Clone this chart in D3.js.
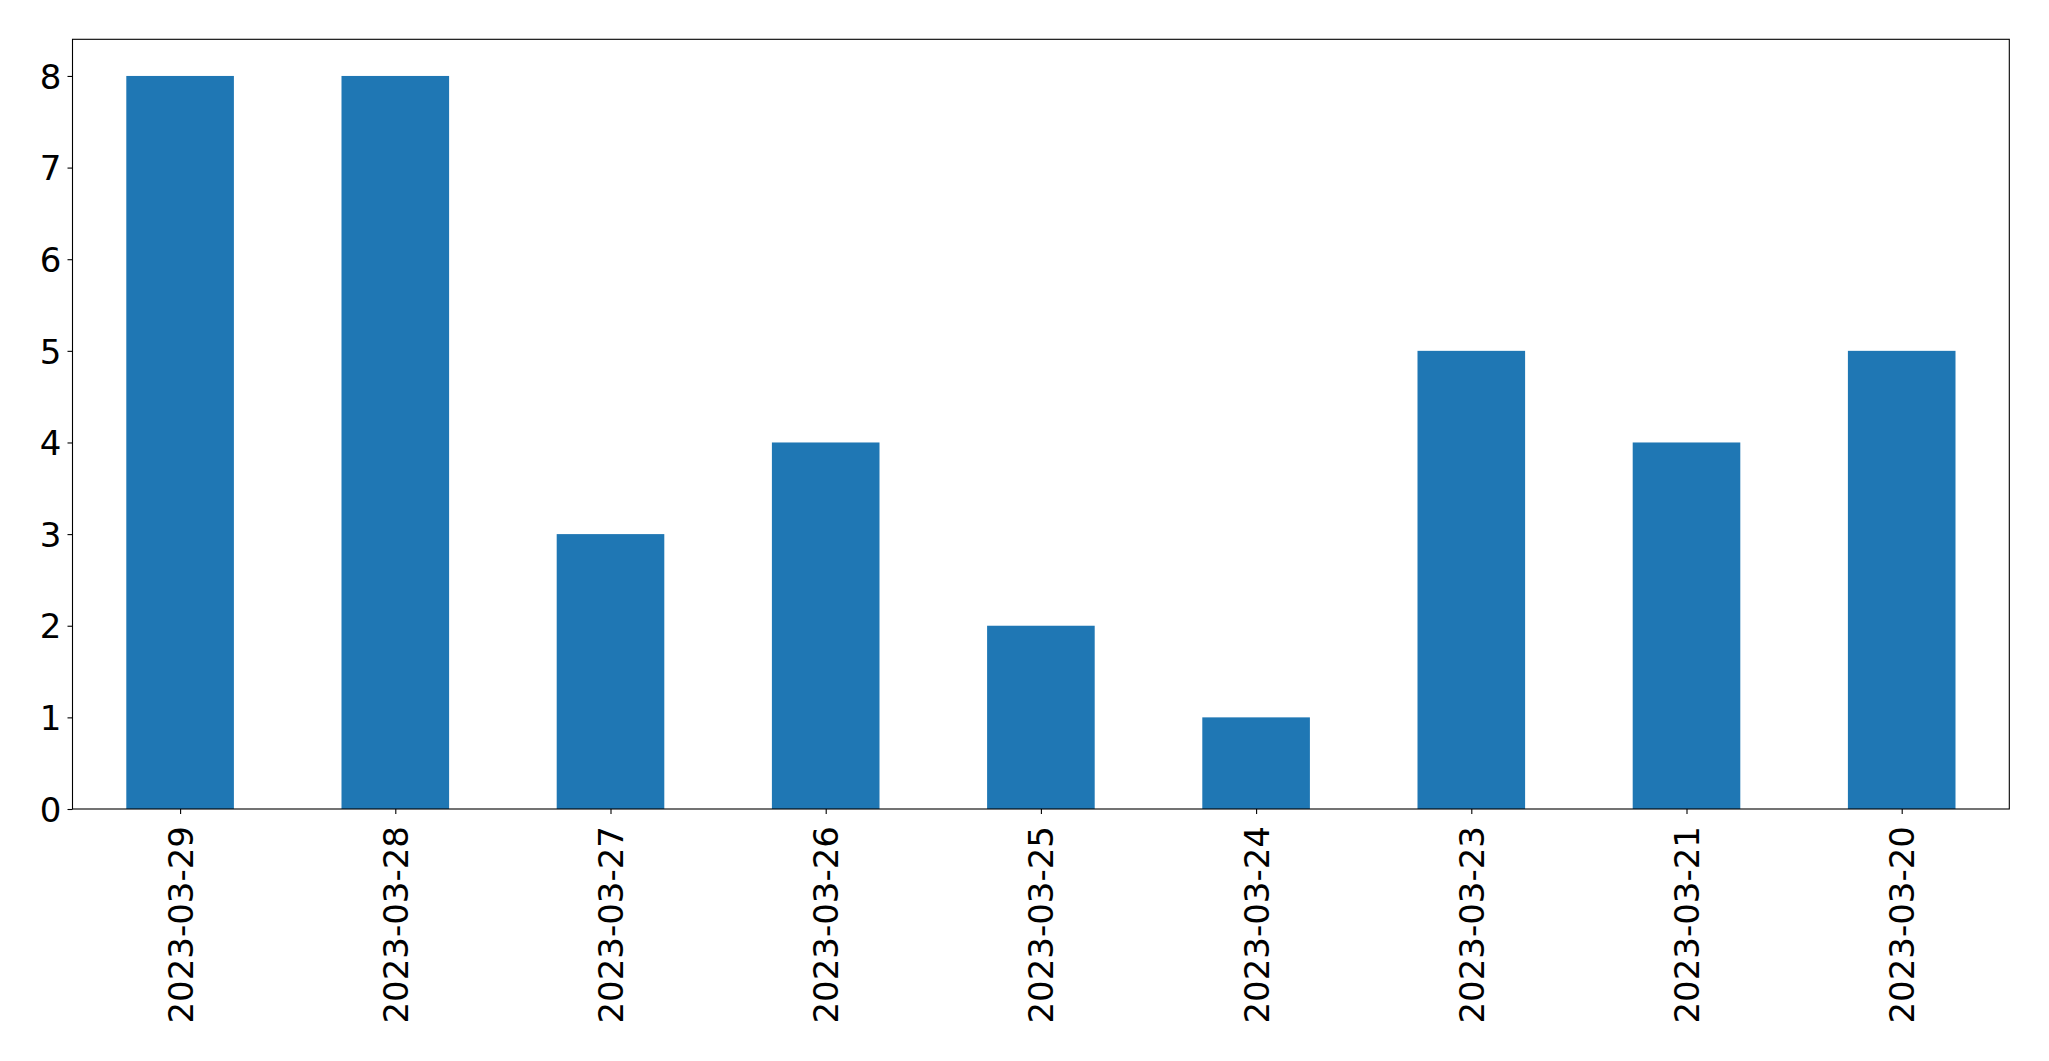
<!DOCTYPE html>
<html><head><meta charset="utf-8">
<script src="https://cdn.jsdelivr.net/npm/d3@7"></script>
<style>html,body{margin:0;padding:0;background:#fff;}svg{display:block;}</style>
</head><body>
<svg id="c" width="2049" height="1061"></svg>
<script>
const categories = ["2023-03-29","2023-03-28","2023-03-27","2023-03-26","2023-03-25","2023-03-24","2023-03-23","2023-03-21","2023-03-20"];
const values = [8, 8, 3, 4, 2, 1, 5, 4, 5];
const yTicks = [0,1,2,3,4,5,6,7,8];

const W = 2049, H = 1061;
const m = {left: 72.5, right: 2009.3, top: 39.3, bottom: 809};
const svg = d3.select("#c");
const font = "DejaVu Sans, sans-serif";
const fs = 34;

const x = d3.scaleLinear().domain([-0.5, categories.length - 0.5]).range([m.left, m.right]);
const y = d3.scaleLinear().domain([0, 8.4]).range([m.bottom, m.top]);
const bw = x(0.5) - x(0);

svg.append("g").selectAll("rect").data(values).join("rect")
  .attr("x", (d,i) => x(i) - bw/2)
  .attr("width", bw)
  .attr("y", d => y(d))
  .attr("height", d => y(0) - y(d))
  .attr("fill", "#1f77b4");

// y axis
const ya = svg.append("g").attr("transform", `translate(${m.left},0)`)
  .call(d3.axisLeft(y).tickValues(yTicks).tickFormat(d3.format("d")).tickSize(5).tickPadding(6));
ya.select(".domain").remove();
ya.selectAll("line").attr("stroke", "#000").attr("stroke-width", 1.1);
ya.selectAll("text").attr("font-family", font).attr("font-size", fs).attr("fill", "#000").attr("dy", "0.36em");

// x axis
const xa = svg.append("g").attr("transform", `translate(0,${m.bottom})`)
  .call(d3.axisBottom(x).tickValues(d3.range(categories.length)).tickFormat(i => categories[i]).tickSize(5).tickPadding(12));
xa.select(".domain").remove();
xa.selectAll("line").attr("stroke", "#000").attr("stroke-width", 1.1);
xa.selectAll("text")
  .attr("font-family", font).attr("font-size", fs).attr("fill", "#000")
  .attr("text-anchor", "end")
  .attr("transform", "rotate(-90)")
  .attr("x", -17).attr("y", 0).attr("dy", "0.35em");

// frame
svg.append("rect").attr("x", m.left).attr("y", m.top)
  .attr("width", m.right - m.left).attr("height", m.bottom - m.top)
  .attr("fill", "none").attr("stroke", "#000").attr("stroke-width", 1.1);
</script>
</body></html>
